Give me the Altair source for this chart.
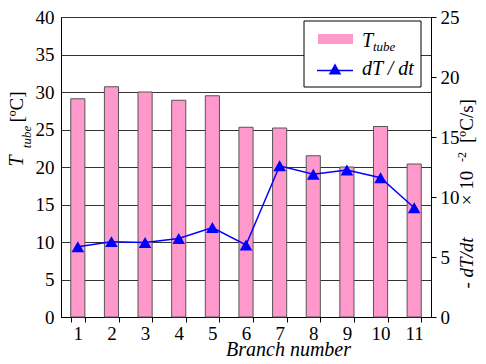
import altair as alt
import pandas as pd

branches = [1, 2, 3, 4, 5, 6, 7, 8, 9, 10, 11]
t_tube = [29.1, 30.7, 30.0, 28.9, 29.5, 25.3, 25.2, 21.5, 20.0, 25.4, 20.4]
dtdt = [5.85, 6.28, 6.2, 6.55, 7.45, 6.0, 12.6, 11.9, 12.25, 11.6, 9.1]
left_ticks = [0, 5, 10, 15, 20, 25, 30, 35, 40]
right_ticks = [0, 5, 10, 15, 20, 25]

FONT = "Liberation Serif"
df = pd.DataFrame({"branch": branches, "t_tube": t_tube, "dtdt": dtdt})

xenc = alt.X("branch:O",
             scale=alt.Scale(paddingInner=0.58, paddingOuter=0.29),
             axis=alt.Axis(title="Branch number", titleFontStyle="italic",
                           titleFont=FONT, titleFontSize=20, titleFontWeight="normal",
                           titleBaseline="alphabetic", titleY=38, titleX=227,
                           titleAlign="center",
                           labelAngle=0, tickBand="extent",
                           labelFont=FONT, labelFontSize=19,
                           tickSize=5, labelPadding=2, domainColor="black",
                           tickColor="black", grid=False))

bars = alt.Chart(df).mark_bar(color="#FF99CC", stroke="#555555", strokeWidth=1).encode(
    x=xenc,
    y=alt.Y("t_tube:Q", scale=alt.Scale(domain=[0, 40], nice=False),
            axis=alt.Axis(title=None, values=left_ticks, grid=True, gridColor="#333333",
                          labelFont=FONT, labelFontSize=19,
                          gridWidth=1, ticks=False, labelPadding=7, domainColor="black",
                          orient="left")),
)

line = alt.Chart(df).mark_line(color="blue", strokeWidth=1.5).encode(
    x=alt.X("branch:O"),
    y=alt.Y("dtdt:Q", scale=alt.Scale(domain=[0, 25], nice=False),
            axis=alt.Axis(title=None, values=right_ticks, grid=False, orient="right",
                          labelFont=FONT, labelFontSize=19,
                          tickSize=5, tickColor="black", labelPadding=4, domainColor="black")),
)
points = alt.Chart(df).mark_point(shape="triangle-up", filled=True, size=160,
                                  color="blue", opacity=1).encode(
    x=alt.X("branch:O"),
    y=alt.Y("dtdt:Q"),
)
right_layer = alt.layer(line, points)

one = alt.Data(values=[{"a": 1}])

def txt(s, x, y, size=19, style="normal", angle=0, align="center", baseline="alphabetic"):
    return alt.Chart(one).mark_text(text=s, font=FONT, fontSize=size, fontStyle=style,
                                    angle=angle, align=align, baseline=baseline,
                                    color="black").encode(x=alt.value(x), y=alt.value(y))

# left axis title
lt = [
    txt("T", -38, 144, 20, "italic", 270),
    txt("tube", -30, 120, 13, "italic", 270),
    txt("[ºC]", -38, 90, 19, "normal", 270),
]
# right axis title
rt = [
    txt("- dT/dt", 412, 246, 19, "italic", 270),
    txt("× 10", 412, 171, 19, "normal", 270),
    txt("-2", 405, 140, 12, "normal", 270),
    txt("[ºC/s]", 412, 104, 19, "normal", 270),
]

# legend
legend_box = alt.Chart(one).mark_rect(fill="white", stroke="black", strokeWidth=1).encode(
    x=alt.value(243), x2=alt.value(360), y=alt.value(4), y2=alt.value(70))
legend_bar = alt.Chart(one).mark_rect(fill="#FF99CC").encode(
    x=alt.value(257), x2=alt.value(292), y=alt.value(17), y2=alt.value(27))
legend_line = alt.Chart(one).mark_rule(color="blue", strokeWidth=1.5).encode(
    x=alt.value(256), x2=alt.value(292), y=alt.value(53.5))
legend_tri = alt.Chart(one).mark_point(shape="triangle-up", filled=True, size=160,
                                       color="blue", opacity=1).encode(
    x=alt.value(274), y=alt.value(52))
legend_texts = [
    txt("T", 301, 30, 20, "italic", 0, "left"),
    txt("tube", 312, 34, 13, "italic", 0, "left"),
    txt("dT / dt", 301, 58, 20, "italic", 0, "left"),
]

chart = alt.layer(
    bars, right_layer, *lt, *rt, legend_box, legend_bar, legend_line, legend_tri, *legend_texts
).resolve_scale(y="independent").properties(
    width=370, height=300,
    autosize=alt.AutoSizeParams(type="none"),
    padding={"left": 53, "top": 9, "right": 47, "bottom": 39},
).configure(font=FONT).configure_view(stroke="black").configure_axis(
    labelFont=FONT, titleFont=FONT, labelFontSize=19, labelColor="black", titleColor="black"
).configure_text(font=FONT)

chart.save("out.html", embed_options={"renderer": "svg", "actions": False})
